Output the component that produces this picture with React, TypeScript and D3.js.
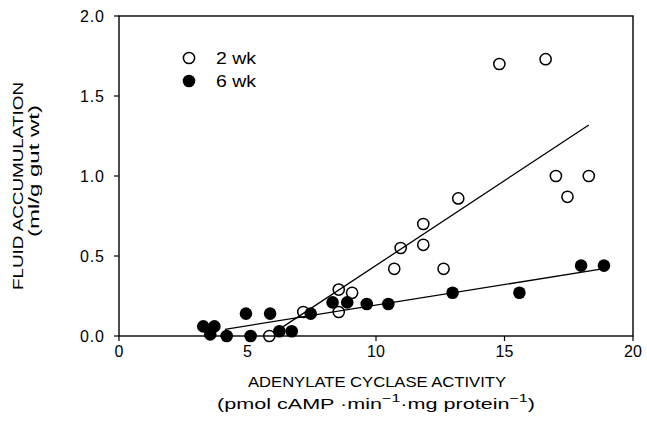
import * as d3 from "d3";

const W = 647;
const H = 423;
const margin = { top: 16, right: 14, bottom: 87, left: 119 };

// 2 wk (open circles)
const twoWkX = [5.85, 7.17, 8.55, 8.55, 9.07, 10.71, 10.96, 11.84, 11.84, 12.63, 13.2, 14.8, 16.6, 17.0, 17.45, 18.28];
const twoWkY = [0.0, 0.15, 0.29, 0.15, 0.27, 0.42, 0.55, 0.7, 0.57, 0.42, 0.86, 1.7, 1.73, 1.0, 0.87, 1.0];

// 6 wk (filled circles)
const sixWkX = [3.28, 3.71, 3.55, 4.19, 4.94, 5.12, 5.88, 6.24, 6.72, 7.46, 8.31, 8.88, 9.64, 10.48, 12.98, 15.58, 17.98, 18.87];
const sixWkY = [0.06, 0.06, 0.01, 0.0, 0.14, 0.0, 0.14, 0.03, 0.03, 0.14, 0.21, 0.21, 0.2, 0.2, 0.27, 0.27, 0.44, 0.44];

// regression lines: [intercept, slope] and x extent
const twoWkFit = [-0.619, 0.106];
const twoWkFitRange = [6.39, 18.28];
const sixWkFit = [-0.064, 0.0257];
const sixWkFitRange = [4.12, 18.87];

const xTicks = [0, 5, 10, 15, 20];
const yTicks = [0, 0.5, 1.0, 1.5, 2.0];

const legendLabels = ["2 wk", "6 wk"];

const FONT = "'Liberation Sans', Arial, sans-serif";

export default function App() {
  const iw = W - margin.left - margin.right;
  const ih = H - margin.top - margin.bottom;
  const x = d3.scaleLinear().domain([0, 20]).range([0, iw]);
  const y = d3.scaleLinear().domain([0, 2]).range([ih, 0]);

  const fitLine = (fit: number[], range: number[]) =>
    d3.line<number>()
      .x((d) => x(d))
      .y((d) => y(fit[0] + fit[1] * d))(range);

  const two = twoWkX.map((v, i) => [v, twoWkY[i]]);
  const six = sixWkX.map((v, i) => [v, sixWkY[i]]);

  return (
    <svg
      width={W}
      height={H}
      style={{ position: "absolute", left: 0, top: 0, background: "#fff" }}
      fontFamily={FONT}
      fill="#000"
    >
      <g transform={`translate(${margin.left},${margin.top})`}>
        {/* frame */}
        <rect x={0} y={0} width={iw} height={ih} fill="none" stroke="#000" strokeWidth={1.4} />

        {/* x ticks */}
        {xTicks.map((t) => (
          <g key={"x" + t} transform={`translate(${x(t)},${ih})`}>
            <line y1={0} y2={5} stroke="#000" strokeWidth={1.2} />
            <text y={21} textAnchor="middle" fontSize={16}>{t}</text>
          </g>
        ))}
        {/* y ticks */}
        {yTicks.map((t) => (
          <g key={"y" + t} transform={`translate(0,${y(t)})`}>
            <line x1={-5} x2={0} stroke="#000" strokeWidth={1.2} />
            <text x={-39} dy="0.36em" fontSize={16} textLength={24} lengthAdjust="spacing">{t.toFixed(1)}</text>
          </g>
        ))}

        {/* fit lines */}
        <path d={fitLine(twoWkFit, twoWkFitRange) || ""} stroke="#000" strokeWidth={1.3} fill="none" />
        <path d={fitLine(sixWkFit, sixWkFitRange) || ""} stroke="#000" strokeWidth={1.3} fill="none" />

        {/* points */}
        {six.map((d, i) => (
          <circle key={"s" + i} cx={x(d[0])} cy={y(d[1])} r={6.3} fill="#000" />
        ))}
        {two.map((d, i) => (
          <circle key={"t" + i} cx={x(d[0])} cy={y(d[1])} r={5.6} fill="none" stroke="#000" strokeWidth={1.5} />
        ))}

        {/* legend */}
        <g transform="translate(70,42)">
          <circle cx={0} cy={0} r={5.6} fill="none" stroke="#000" strokeWidth={1.5} />
          <text x={27} dy="0.36em" fontSize={16} textLength={40} lengthAdjust="spacingAndGlyphs">{legendLabels[0]}</text>
          <circle cx={0} cy={23} r={6.3} fill="#000" />
          <text x={27} y={23} dy="0.36em" fontSize={16} textLength={40} lengthAdjust="spacingAndGlyphs">{legendLabels[1]}</text>
        </g>
      </g>

      {/* axis titles */}
      <text x={377} y={387} textAnchor="middle" fontSize={15.5} textLength={258} lengthAdjust="spacingAndGlyphs">
        ADENYLATE CYCLASE ACTIVITY
      </text>
      <text x={376} y={409} textAnchor="middle" fontSize={15.5} textLength={318} lengthAdjust="spacingAndGlyphs">
        (pmol cAMP ·min
        <tspan fontSize={11.5} dy={-7}>−1</tspan>
        <tspan dy={7}>·mg protein</tspan>
        <tspan fontSize={11.5} dy={-7}>−1</tspan>
        <tspan dy={7}>)</tspan>
      </text>
      <text
        transform="translate(23,186) rotate(-90)"
        textAnchor="middle"
        fontSize={15.5}
        textLength={208}
        lengthAdjust="spacingAndGlyphs"
      >
        FLUID ACCUMULATION
      </text>
      <text
        transform="translate(39,171) rotate(-90)"
        textAnchor="middle"
        fontSize={15.5}
        textLength={132}
        lengthAdjust="spacingAndGlyphs"
      >
        (ml/g gut wt)
      </text>
    </svg>
  );
}
